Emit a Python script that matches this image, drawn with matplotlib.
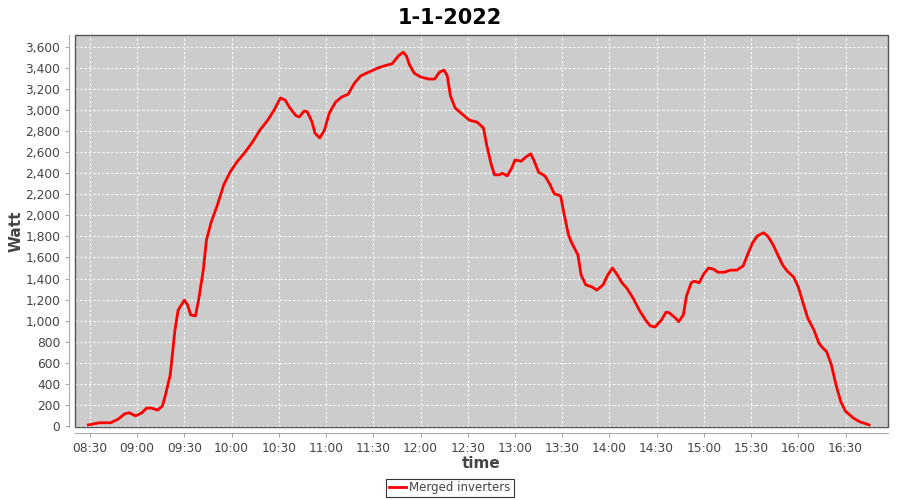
#!/usr/bin/env python3
"""Daily power curve of the merged inverters, 1-1-2022."""

import matplotlib
matplotlib.use("Agg")
import matplotlib.pyplot as plt
from matplotlib.patches import Rectangle
from matplotlib.ticker import FuncFormatter, MultipleLocator


TIMES = [
    "08:29", "08:36", "08:43", "08:48", "08:52", "08:55", "08:59", "09:03",
    "09:06", "09:09", "09:13", "09:16", "09:18", "09:21", "09:24", "09:26",
    "09:30", "09:32", "09:34", "09:37", "09:39", "09:42", "09:44", "09:47",
    "09:51", "09:55", "09:59", "10:03", "10:08", "10:13", "10:18", "10:23",
    "10:27", "10:31", "10:34", "10:37", "10:41", "10:43", "10:46", "10:48",
    "10:51", "10:53", "10:56", "10:59", "11:02", "11:06", "11:10", "11:14",
    "11:18", "11:22", "11:27", "11:33", "11:37", "11:42", "11:46", "11:49",
    "11:51", "11:53", "11:56", "12:00", "12:05", "12:09", "12:12", "12:15",
    "12:17", "12:19", "12:22", "12:27", "12:31", "12:36", "12:40", "12:42",
    "12:45", "12:47", "12:50", "12:52", "12:55", "12:58", "13:00", "13:04",
    "13:07", "13:10", "13:12", "13:15", "13:19", "13:22", "13:25", "13:29",
    "13:31", "13:34", "13:36", "13:40", "13:42", "13:45", "13:49", "13:52",
    "13:56", "13:59", "14:02", "14:05", "14:08", "14:11", "14:15", "14:19",
    "14:23", "14:26", "14:29", "14:33", "14:36", "14:38", "14:42", "14:44",
    "14:47", "14:49", "14:52", "14:54", "14:57", "15:00", "15:03", "15:06",
    "15:09", "15:13", "15:17", "15:21", "15:25", "15:28", "15:31", "15:34",
    "15:38", "15:41", "15:44", "15:47", "15:50", "15:53", "15:57", "16:00",
    "16:03", "16:06", "16:10", "16:13", "16:15", "16:18", "16:21", "16:24",
    "16:27", "16:30", "16:35", "16:39", "16:45",
]

WATT = [
    10, 30, 30, 65, 115, 125, 95, 125,
    170, 170, 150, 190, 295, 485, 910, 1100,
    1195, 1150, 1055, 1045, 1195, 1480, 1765, 1935,
    2100, 2290, 2410, 2500, 2590, 2690, 2810, 2905,
    3000, 3115, 3095, 3020, 2945, 2935, 2990, 2985,
    2890, 2780, 2735, 2810, 2970, 3075, 3125, 3150,
    3255, 3325, 3360, 3400, 3420, 3440, 3515, 3550,
    3515, 3430, 3350, 3315, 3295, 3295, 3360, 3380,
    3325, 3135, 3020, 2955, 2905, 2885, 2830, 2670,
    2480, 2385, 2385, 2400, 2375, 2450, 2525, 2515,
    2555, 2585, 2525, 2410, 2375, 2300, 2205, 2185,
    2030, 1815, 1740, 1625, 1435, 1340, 1320, 1290,
    1340, 1435, 1500, 1435, 1360, 1310, 1215, 1100,
    1005, 950, 940, 1005, 1080, 1075, 1025, 990,
    1055, 1235, 1360, 1375, 1360, 1445, 1500, 1490,
    1460, 1460, 1480, 1480, 1520, 1635, 1740, 1805,
    1835, 1795, 1720, 1625, 1530, 1470, 1415, 1320,
    1170, 1025, 910, 790, 750, 705, 580, 390,
    230, 140, 75, 40, 10,
]

TICK_TIMES = ["08:30", "09:00", "09:30", "10:00", "10:30", "11:00", "11:30",
              "12:00", "12:30", "13:00", "13:30", "14:00", "14:30", "15:00",
              "15:30", "16:00", "16:30"]

TITLE = "1-1-2022"
SERIES = "Merged inverters"


def to_min(t):
    h, m = t.split(":")
    return int(h) * 60 + int(m)


def main():
    x = [to_min(t) for t in TIMES]
    ticks = [to_min(t) for t in TICK_TIMES]

    fig = plt.figure(figsize=(9, 5), dpi=100)
    ax = fig.add_axes([75 / 900, 1 - 427 / 500, 813 / 900, 392 / 500])
    ax.set_facecolor("#cccccc")

    ax.plot(x, WATT, color="red", linewidth=2.0, label=SERIES,
            solid_joinstyle="round")

    ax.set_xlim(to_min("08:30") - 9.5, to_min("08:30") + 507)
    ax.set_ylim(-10, 3713)

    ax.set_xticks(ticks)
    ax.set_xticklabels(TICK_TIMES)
    ax.yaxis.set_major_locator(MultipleLocator(200))
    ax.yaxis.set_major_formatter(FuncFormatter(lambda v, p: f"{int(v):,}"))

    ax.grid(True, color="white", linestyle=(0, (2, 2)), linewidth=0.8)
    ax.set_axisbelow(True)

    # offset axis lines like the original, plus a dark outline round the plot
    for side in ("top", "right"):
        ax.spines[side].set_visible(False)
    for side in ("left", "bottom"):
        ax.spines[side].set_position(("outward", 4))
        ax.spines[side].set_color("#aaaaaa")
    ax.add_patch(Rectangle((0, 0), 1, 1, transform=ax.transAxes, fill=False,
                           edgecolor="#555555", linewidth=1.0, clip_on=False,
                           zorder=5))

    ax.tick_params(axis="both", colors="#aaaaaa", labelcolor="#444444",
                   labelsize=8.8, length=3, width=0.8, direction="out")

    ax.set_xlabel("time", fontsize=11, fontweight="bold", color="#444444",
                  labelpad=1)
    ax.set_ylabel("Watt", fontsize=11, fontweight="bold", color="#444444",
                  labelpad=1)
    fig.suptitle(TITLE, fontsize=15, fontweight="bold", y=0.985)

    leg = fig.legend(loc="center", bbox_to_anchor=(450 / 900, 1 - 488 / 500),
                     fontsize=8.5, frameon=True, fancybox=False,
                     handlelength=1.4, borderpad=0.25, handletextpad=0.3,
                     borderaxespad=0)
    leg.get_frame().set_edgecolor("black")
    leg.get_frame().set_linewidth(0.8)
    for t in leg.get_texts():
        t.set_color("#444444")

    fig.savefig("out.png", dpi=100)
    plt.close(fig)


if __name__ == "__main__":
    main()
